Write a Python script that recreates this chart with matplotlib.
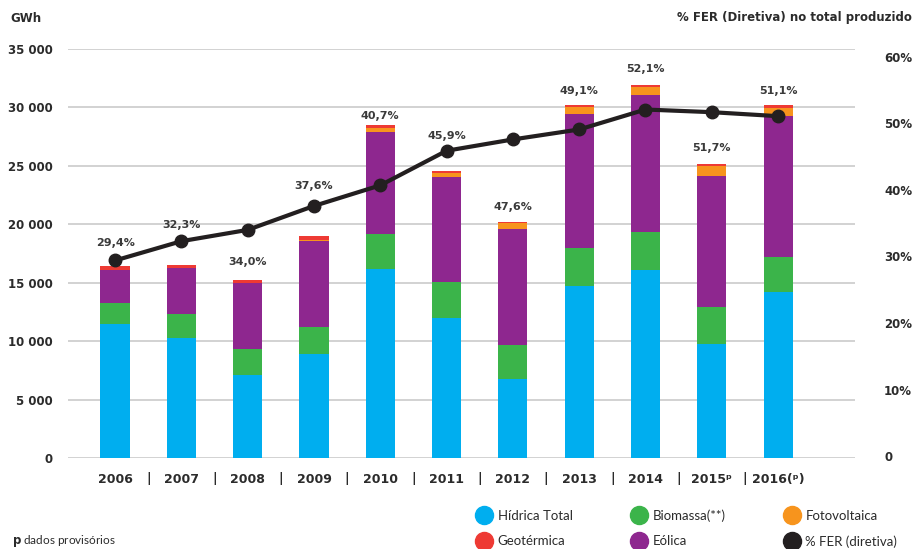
import matplotlib
matplotlib.use('Agg')
import matplotlib.pyplot as plt
import numpy as np
from matplotlib.lines import Line2D

# ---------------- data ----------------
years = ['2006', '2007', '2008', '2009', '2010', '2011', '2012', '2013', '2014',
         '2015ᵖ', '2016(ᵖ)']
hidrica = [11500, 10300, 7100, 8900, 16150, 12000, 6730, 14760, 16070, 9740, 14200]
biomassa = [1800, 2050, 2200, 2280, 3000, 3050, 2930, 3200, 3270, 3190, 3000]
eolica = [2800, 3870, 5670, 7350, 8780, 9030, 9910, 11450, 11740, 11170, 12050]
fotovoltaica = [30, 30, 40, 160, 350, 350, 540, 660, 650, 910, 680]
geotermica = [300, 300, 250, 300, 200, 150, 120, 170, 200, 170, 310]
fer_pct = [29.4, 32.3, 34.0, 37.6, 40.7, 45.9, 47.6, 49.1, 52.1, 51.7, 51.1]
fer_labels = ['29,4%', '32,3%', '34,0%', '37,6%', '40,7%', '45,9%', '47,6%',
              '49,1%', '52,1%', '51,7%', '51,1%']
left_ticks = [0, 5000, 10000, 15000, 20000, 25000, 30000, 35000]
left_ticklabels = ['0', '5 000', '10 000', '15 000', '20 000', '25 000', '30 000', '35 000']
right_ticks = [0, 10, 20, 30, 40, 50, 60]
right_ticklabels = ['0', '10%', '20%', '30%', '40%', '50%', '60%']

# layout: heights (GWh units) at which the percentage labels sit
label_y = [18400, 19950, 16770, 23280, 29270, 27550, 21480, 31400, 33290, 26530, 31400]

# ---------------- style ----------------
C_HID = '#00AEEF'
C_BIO = '#3BB44A'
C_EOL = '#8E278F'
C_FOT = '#F7941D'
C_GEO = '#EE3A34'
C_FER = '#231F20'
TXT = '#2b2b2b'
GRID = '#cfcfcf'

fig = plt.figure(figsize=(9.15, 5.49), dpi=100)
ax = fig.add_axes([68/915, 1-458/549, (855-68)/915, (458-49)/549])

x = np.arange(len(years))
w = 0.44
h = np.array(hidrica, float)
b = np.array(biomassa, float)
e = np.array(eolica, float)
f = np.array(fotovoltaica, float)
g = np.array(geotermica, float)

ax.bar(x, h, w, color=C_HID, zorder=3, linewidth=0)
ax.bar(x, b, w, bottom=h, color=C_BIO, zorder=3, linewidth=0)
ax.bar(x, e, w, bottom=h+b, color=C_EOL, zorder=3, linewidth=0)
ax.bar(x, f, w, bottom=h+b+e, color=C_FOT, zorder=3, linewidth=0)
ax.bar(x, g, w, bottom=h+b+e+f, color=C_GEO, zorder=3, linewidth=0)

ax.set_xlim(-0.71, 11.16)
ax.set_ylim(0, 35000)
for t in left_ticks:
    ax.axhline(t, color=GRID, lw=1.3, zorder=1)
ax.set_yticks(left_ticks)
ax.set_yticklabels(left_ticklabels, fontsize=8.5, fontweight='bold', color=TXT,
                   family='DejaVu Sans')
ax.tick_params(axis='y', length=0, pad=11)
ax.set_xticks(x)
ax.set_xticklabels(years, fontsize=9, fontweight='bold', color=TXT, family='DejaVu Sans')
ax.tick_params(axis='x', length=0, pad=11)
for s in ax.spines.values():
    s.set_visible(False)

# separators between year labels
for i in range(len(years) - 1):
    ax.text(i + 0.5, -1750, '|', ha='center', va='center', fontsize=9,
            fontweight='bold', color=TXT, transform=ax.transData, clip_on=False)

# percentage labels
for i, lab in enumerate(fer_labels):
    ax.text(x[i], label_y[i], lab, ha='center', va='center', fontsize=8,
            fontweight='bold', color='#3a3a3a', zorder=6, family='DejaVu Sans')

# secondary axis for % FER
ax2 = ax.twinx()
ax2.set_ylim(-0.3, 61.2)
ax2.plot(x, fer_pct, color=C_FER, lw=3, marker='o', markersize=9, zorder=5)
ax2.set_yticks(right_ticks)
ax2.set_yticklabels(right_ticklabels, fontsize=8.5, fontweight='bold', color=TXT,
                    family='DejaVu Sans')
ax2.tick_params(axis='y', length=0, pad=21)
for s in ax2.spines.values():
    s.set_visible(False)

# titles
fig.text(10/915, 1-18/549, 'GWh', ha='left', va='center', fontsize=8.5,
         fontweight='bold', color=TXT, family='DejaVu Sans')
fig.text(912/915, 1-18/549, '% FER (Diretiva) no total produzido', ha='right',
         va='center', fontsize=8.5, fontweight='bold', color=TXT, family='DejaVu Sans')

# footnote
fig.text(12/915, 1-541/549, r'$\mathbf{p}$ dados provisórios', ha='left', va='center',
         fontsize=8.5, color=TXT, family='Lato')

# legend
def mk(c):
    return Line2D([], [], marker='o', linestyle='none', markersize=13,
                  markerfacecolor=c, markeredgecolor=c)

handles = [mk(C_HID), mk(C_GEO), mk(C_BIO), mk(C_EOL), mk(C_FOT), mk(C_FER)]
labels = ['Hídrica Total', 'Geotérmica', 'Biomassa(**)', 'Eólica', 'Fotovoltaica',
          '% FER (diretiva)']
leg = fig.legend(handles, labels, ncol=3, loc='center left',
                 bbox_to_anchor=(476/915, 1-528.5/549), frameon=False,
                 prop={'family': 'Lato', 'size': 9.5}, handletextpad=0.45,
                 columnspacing=4.4, labelspacing=1.05, handlelength=1.2,
                 borderpad=0, borderaxespad=0)
for t in leg.get_texts():
    t.set_color(TXT)

fig.savefig('out.png', dpi=100)
